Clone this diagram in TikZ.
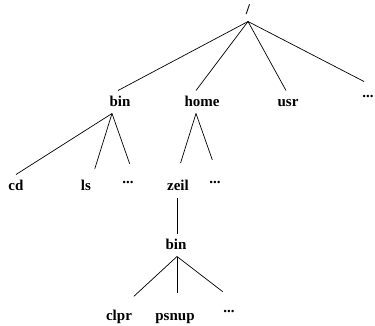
\documentclass[tikz,border=0pt]{standalone}
\usepackage{fontspec}
\setmainfont{Liberation Serif}
\tikzset{
  dir/.style={inner sep=0pt, outer sep=6pt, text height=10pt, text depth=1pt,
    font=\fontsize{15}{17}\selectfont\bfseries},
  link/.style={line width=0.7pt}
}
\begin{document}
\begin{tikzpicture}[x=1pt, y=-1pt]
    \useasboundingbox (0,0) rectangle (375,325);

    \node (root) at (248,10) [dir] {/};
    \node (bin) at (120,102) [dir] {bin};
    \node (home) at (202,102) [dir] {home};
    \node (usr) at (288,102) [dir] {usr};
    \node (etcA) at (368,93) [dir] {...};
    \node (cd) at (16,186) [dir] {cd};
    \node (ls) at (86,186) [dir] {ls};
    \node (etcB) at (128,179) [dir] {...};
    \node (zeil) at (178,186) [dir] {zeil};
    \node (etcC) at (215,179) [dir] {...};
    \node (zbin) at (176,245) [dir] {bin};
    \node (clpr) at (119,316) [dir] {clpr};
    \node (psnup) at (175,316) [dir] {psnup};
    \node (etcD) at (229,308) [dir] {...};

    \draw[link] (root.south) -- ([xshift=-2pt]bin.north);
    \draw[link] (root.south) -- ([xshift=-6pt]home.north);
    \draw[link] (root.south) -- ([xshift=-2pt]usr.north);
    \draw[link] (root.south) -- ([xshift=-4pt]etcA.north);
    \draw[link] ([xshift=-8pt]bin.south) -- (cd.north);
    \draw[link, shorten >=6pt] ([xshift=-8pt]bin.south) -- ([xshift=7pt]ls.north);
    \draw[link, shorten >=4pt] ([xshift=-8pt]bin.south) -- ([xshift=3pt]etcB.north);
    \draw[link, shorten >=12pt] ([xshift=-6pt]home.south) -- ([xshift=-1pt]zeil.north);
    \draw[link, shorten >=8pt] ([xshift=-6pt]home.south) -- (etcC.north);
    \draw[link] ([xshift=-1pt]zeil.south) -- ([xshift=-1pt]zeil.south |- zbin.north);
    \draw[link, shorten >=12pt] ([xshift=1pt]zbin.south) -- ([xshift=6pt]clpr.north);
    \draw[link, shorten >=12pt] ([xshift=1pt]zbin.south) -- ([xshift=2pt]psnup.north);
    \draw[link, shorten >=8pt] ([xshift=1pt]zbin.south) -- (etcD.north);
\end{tikzpicture}
\end{document}
